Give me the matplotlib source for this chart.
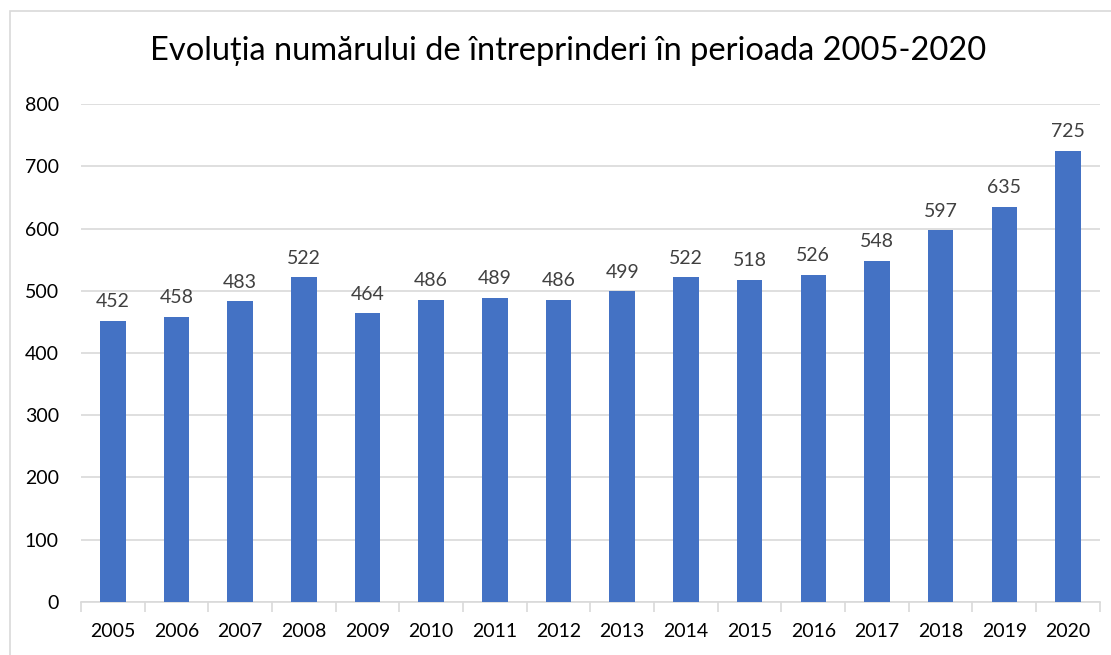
import matplotlib
matplotlib.use("Agg")
import matplotlib.pyplot as plt
from matplotlib.patches import Rectangle
import numpy as np

plt.rcParams['font.family'] = ['Lato', 'DejaVu Sans']

years = ["2005", "2006", "2007", "2008", "2009", "2010", "2011", "2012",
         "2013", "2014", "2015", "2016", "2017", "2018", "2019", "2020"]
counts = [452, 458, 483, 522, 464, 486, 489, 486, 499, 522, 518, 526, 548, 597, 635, 725]
title = "Evoluția numărului de întreprinderi în perioada 2005-2020"

fig = plt.figure(figsize=(11.11, 6.55), dpi=100)
ax = fig.add_axes([0.0729, 0.081, 0.917, 0.760])

# chart frame (only top/left visible in the crop)
fig.patches.append(Rectangle((10 / 1111, -0.1), 1.2, 1 - 11 / 655 + 0.1,
                             transform=fig.transFigure, fill=False,
                             edgecolor="#d9d9d9", linewidth=1.2))

x = np.arange(len(years))
bars = ax.bar(x, counts, width=0.4, color="#4472C4", zorder=3)
for xi, v in zip(x, counts):
    ax.text(xi, v + 17, str(v), ha="center", va="bottom", fontsize=14, color="#404040")

ax.set_xlim(-0.5, len(years) - 0.5)
ax.set_ylim(0, 800)
ax.set_yticks(range(0, 801, 100))
ax.yaxis.grid(True, color="#d9d9d9", linewidth=1.2, zorder=0)
ax.tick_params(axis="y", length=0, labelsize=14, pad=16)
ax.set_xticks(x)
ax.set_xticklabels(years)
ax.set_xticks(np.arange(-0.5, len(years)), minor=True)
ax.tick_params(axis="x", which="major", length=0, labelsize=14, pad=15)
ax.tick_params(axis="x", which="minor", length=7, color="#d9d9d9", width=1.2)
for s in ["top", "right", "left"]:
    ax.spines[s].set_visible(False)
ax.spines["bottom"].set_color("#d9d9d9")
ax.spines["bottom"].set_linewidth(1.2)

fig.text(0.511, 0.922, title, ha="center", va="center", fontsize=23.5, color="#000000")

fig.savefig("out.png", dpi=100)
